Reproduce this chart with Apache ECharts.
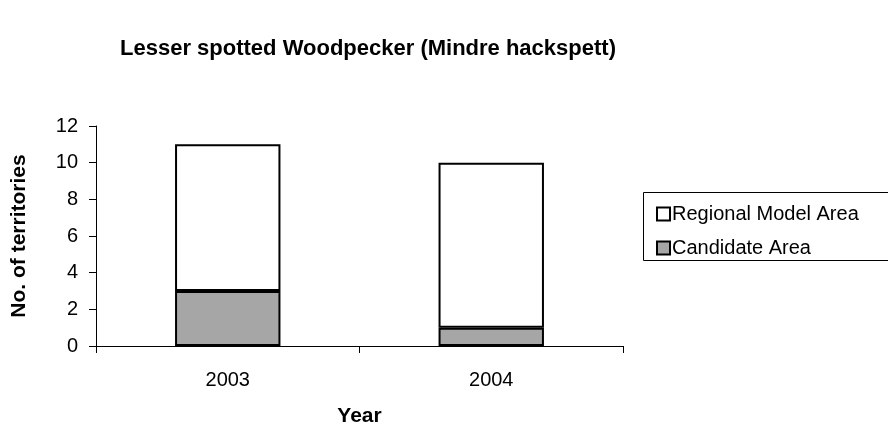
<!DOCTYPE html>
<html>
<head>
<meta charset="utf-8">
<script src="https://cdn.jsdelivr.net/npm/echarts@6/dist/echarts.min.js"></script>
<style>
  html, body { margin: 0; padding: 0; background: #fff; }
  #chart { width: 888px; height: 426px; }
</style>
</head>
<body>
<div id="chart"></div>
<script>
// Territory counts per year, split by area
const years = ['2003', '2004'];
const candidateArea = [3, 1];
const regionalModelArea = [8, 9];
const yTicks = { min: 0, max: 12, interval: 2 };

const FONT = '"Liberation Sans", Arial, sans-serif';

const chart = echarts.init(document.getElementById('chart'), null, { renderer: 'canvas' });

chart.setOption({
  backgroundColor: '#ffffff',
  animation: false,
  textStyle: { fontFamily: FONT, color: '#000' },
  title: {
    text: 'Lesser spotted Woodpecker (Mindre hackspett)',
    left: 363,
    top: 33,
    textAlign: 'center',
    textStyle: { fontFamily: FONT, fontSize: 22, fontWeight: 'bold', color: '#000' }
  },
  grid: {
    left: 96, right: 265, top: 126, bottom: 80,
    containLabel: false,
    outerBoundsMode: 'none'
  },
  legend: {
    orient: 'vertical',
    left: 651,
    top: 199,
    itemWidth: 13,
    itemHeight: 13,
    itemGap: 14,
    icon: 'rect',
    data: ['Regional Model Area', 'Candidate Area'],
    textStyle: { fontFamily: FONT, fontSize: 20, color: '#000', padding: [0, 0, 0, -3] }
  },
  graphic: [{
    type: 'rect',
    shape: { x: 643.5, y: 192.5, width: 260, height: 68 },
    style: { fill: 'none', stroke: '#000', lineWidth: 1 },
    silent: true
  }],
  xAxis: {
    type: 'category',
    data: years,
    name: 'Year',
    nameLocation: 'middle',
    nameGap: 60,
    nameTextStyle: { fontFamily: FONT, fontSize: 21, fontWeight: 'bold', color: '#000' },
    axisLine: { lineStyle: { color: '#000', width: 1 } },
    axisTick: { show: true, length: 7, lineStyle: { color: '#000' } },
    axisLabel: { fontFamily: FONT, fontSize: 20, color: '#000', margin: 24 }
  },
  yAxis: {
    type: 'value',
    min: yTicks.min,
    max: yTicks.max,
    interval: yTicks.interval,
    name: 'No. of territories',
    nameLocation: 'middle',
    nameGap: 66,
    nameTextStyle: { fontFamily: FONT, fontSize: 21, fontWeight: 'bold', color: '#000' },
    axisLine: { show: true, lineStyle: { color: '#000', width: 1 } },
    axisTick: { show: true, length: 7, lineStyle: { color: '#000' } },
    axisLabel: { fontFamily: FONT, fontSize: 20, color: '#000', margin: 18 },
    splitLine: { show: false }
  },
  series: [
    {
      name: 'Candidate Area',
      type: 'bar',
      stack: 'total',
      barWidth: '40%',
      data: candidateArea,
      itemStyle: { color: '#a6a6a6', borderColor: '#000', borderWidth: 2 }
    },
    {
      name: 'Regional Model Area',
      type: 'bar',
      stack: 'total',
      barWidth: '40%',
      data: regionalModelArea,
      itemStyle: { color: '#ffffff', borderColor: '#000', borderWidth: 2 }
    }
  ]
});
</script>
</body>
</html>
